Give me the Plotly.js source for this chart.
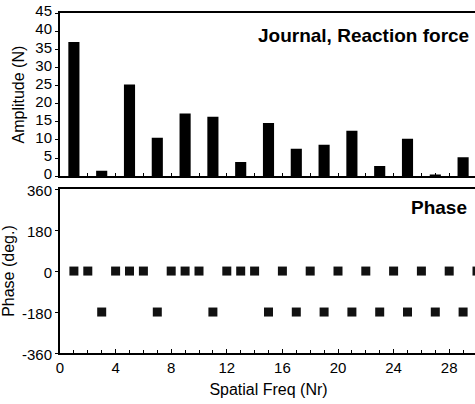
<!DOCTYPE html>
<html>
<head>
<meta charset="utf-8">
<script src="https://cdn.plot.ly/plotly-3.0.1.min.js"></script>
<style>html,body{margin:0;padding:0;overflow:hidden;background:#fff;}</style>
</head>
<body>
<div id="chart"></div>
<script>
// Amplitude bars (odd spatial frequencies)
const ampFreq = [1, 3, 5, 7, 9, 11, 13, 15, 17, 19, 21, 23, 25, 27, 29];
const ampValues = [37.0, 1.5, 25.3, 10.6, 17.3, 16.4, 3.9, 14.7, 7.6, 8.7, 12.5, 2.8, 10.3, 0.5, 5.2];
// Phase points
const phaseFreq = [1, 2, 3, 4, 5, 6, 7, 8, 9, 10, 11, 12, 13, 14, 15, 16, 17, 18, 19, 20, 21, 22, 23, 24, 25, 26, 27, 28, 29, 30];
const phaseValues = [0, 0, -180, 0, 0, 0, -180, 0, 0, 0, -180, 0, 0, 0, -180, 0, -180, 0, -180, 0, -180, 0, -180, 0, -180, 0, -180, 0, -180, 0];
const ampTicks = [0, 5, 10, 15, 20, 25, 30, 35, 40, 45];
const phaseTicks = [-360, -180, 0, 180, 360];
const xTicks = [0, 4, 8, 12, 16, 20, 24, 28];

const fam = 'Liberation Sans, Arial, sans-serif';
const font = {family: fam, size: 16, color: '#000'};
const tickFont = {family: fam, size: 15, color: '#000'};

const traces = [
  {type: 'bar', x: ampFreq, y: ampValues, width: 0.8, marker: {color: '#000'}, xaxis: 'x', yaxis: 'y', hoverinfo: 'x+y'},
  {type: 'scatter', mode: 'markers', x: phaseFreq, y: phaseValues, marker: {symbol: 'square', size: 9, color: '#111'}, xaxis: 'x2', yaxis: 'y2', cliponaxis: false}
];

const layout = {
  width: 478, height: 404,
  margin: {l: 60, r: 1, t: 13, b: 51},
  paper_bgcolor: '#fff', plot_bgcolor: '#fff',
  showlegend: false,
  font: font,
  xaxis: {
    domain: [0, 1], range: [0, 30], anchor: 'y',
    showline: true, linecolor: '#000', linewidth: 2, mirror: true,
    ticks: 'inside', dtick: 1, tick0: 0, ticklen: 3, tickcolor: '#000',
    showticklabels: false, showgrid: false, zeroline: false
  },
  yaxis: {
    domain: [0.52, 1], range: [0, 45], anchor: 'x',
    tickvals: ampTicks, ticktext: ampTicks.map(String), tickfont: tickFont,
    ticklabelshift: -2,
    showline: true, linecolor: '#000', linewidth: 2, mirror: true,
    ticks: 'outside', ticklen: 3, tickcolor: '#000',
    showgrid: false, zeroline: false,
    title: {text: 'Amplitude (N)', font: font, standoff: 7}
  },
  xaxis2: {
    domain: [0, 1], range: [0, 30], anchor: 'y2',
    tickvals: xTicks, ticktext: xTicks.map(String), tickfont: tickFont,
    showline: true, linecolor: '#000', linewidth: 2, mirror: true,
    ticks: 'inside', ticklen: 4, tickcolor: '#000',
    minor: {dtick: 1, tick0: 0, ticks: 'inside', ticklen: 3, tickcolor: '#000'},
    showgrid: false, zeroline: false,
    title: {text: 'Spatial Freq (Nr)', font: font, standoff: 9}
  },
  yaxis2: {
    domain: [0, 0.482], range: [-360, 360], anchor: 'x2',
    tickvals: phaseTicks, ticktext: phaseTicks.map(String), tickfont: tickFont,
    ticklabelshift: 2,
    showline: true, linecolor: '#000', linewidth: 2, mirror: true,
    ticks: 'outside', ticklen: 3, tickcolor: '#000',
    showgrid: false, zeroline: false,
    title: {text: 'Phase (deg.)', font: font, standoff: 5}
  },
  annotations: [
    {text: '<b>Journal, Reaction force</b>', xref: 'paper', yref: 'paper', x: 0.986, y: 0.935, xanchor: 'right', yanchor: 'middle', showarrow: false, font: {family: fam, size: 19, color: '#000'}},
    {text: '<b>Phase</b>', xref: 'paper', yref: 'paper', x: 0.981, y: 0.428, xanchor: 'right', yanchor: 'middle', showarrow: false, font: {family: fam, size: 19, color: '#000'}}
  ]
};

Plotly.newPlot('chart', traces, layout, {displayModeBar: false, staticPlot: true});
</script>
</body>
</html>
